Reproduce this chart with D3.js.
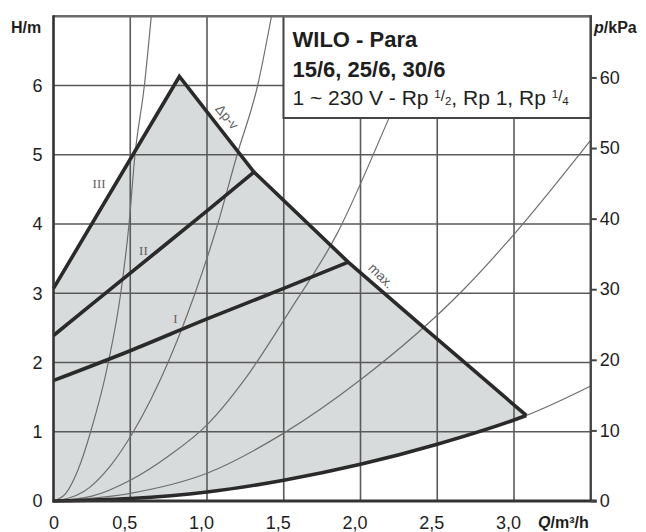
<!DOCTYPE html>
<html><head><meta charset="utf-8">
<script src="https://cdn.jsdelivr.net/npm/d3@7"></script>
<style>body{margin:0;background:#fff}svg{display:block;font-family:"Liberation Sans",Arial,sans-serif}</style>
</head><body>
<svg id="c" width="646" height="532"></svg>
<script>
// ---- data (Q in m³/h, H in m) ----
const qTicks = [0, 0.5, 1, 1.5, 2, 2.5, 3];
const qLabels = ["0", "0,5", "1,0", "1,5", "2,0", "2,5", "3,0"];
const hTicks = [0, 1, 2, 3, 4, 5, 6];
const pTicks = [0, 10, 20, 30, 40, 50, 60];

// thin system curves
const sysA = [[0,0],[0.08,0.11],[0.16,0.45],[0.242,1],[0.357,2],[0.438,3],[0.492,4],[0.531,5],[0.592,6],[0.637,7]];
const sysB = [[0,0],[0.2,0.14],[0.368,0.5],[0.52,1],[0.746,2],[0.922,3],[1.07,4],[1.196,5],[1.33,6],[1.42,7]];
const sysC = [[0,0],[0.25,0.07],[0.5,0.3],[0.75,0.65],[1.0,1.1],[1.26,1.8],[1.54,2.75],[1.845,3.85],[2.18,5.5],[2.45,6.9]];
const sysD = [[0,0],[0.5,0.11],[1.0,0.4],[1.5,0.98],[2.0,1.75],[2.67,3.05],[3.0,3.85],[3.5,5.21]];
const sysE = [[0,0],[0.5,0.035],[1.0,0.13],[1.5,0.3],[2.0,0.53],[2.5,0.82],[3.0,1.17],[3.08,1.235],[3.5,1.66]];

// thick pump curves
const speedIII = [[0,3.07],[0.82,6.13]];
const speedII = [[0,2.39],[0.5,3.29],[1.0,4.19],[1.306,4.75]];
const speedI = [[0,1.74],[0.5,2.17],[1.0,2.63],[1.5,3.07],[1.92,3.45]];
const maxCurve = [[0.82,6.13],[1.306,4.75],[1.92,3.45],[2.43,2.47],[2.71,1.94],[3.08,1.235]];
const minCurve = [[0,0],[0.5,0.035],[1.0,0.13],[1.5,0.3],[2.0,0.53],[2.5,0.82],[3.0,1.17],[3.08,1.235]];

// annotation texts
const curveLabels = [
  {t:"III", q:0.297, h:4.58, r:0, s:13},
  {t:"II",  q:0.586, h:3.62, r:0, s:13},
  {t:"I",   q:0.795, h:2.63, r:0, s:13},
  {t:"Δp-v", q:1.13, h:5.545, r:50, s:13.5},
  {t:"max.", q:2.134, h:3.25, r:45, s:13.5}
];

// ---- chart ----
const svg = d3.select("#c");
const x = d3.scaleLinear().domain([0, 3.5]).range([53.5, 590.75]);
const y = d3.scaleLinear().domain([0, 7]).range([501, 16.25]);
const yP = d3.scaleLinear().domain([0, 7 * 9.81]).range([501, 16.25]);

svg.append("defs").append("clipPath").attr("id", "clip")
  .append("rect").attr("x", x(0)).attr("y", y(7)).attr("width", x(3.5) - x(0)).attr("height", y(0) - y(7));

const lineM = d3.line().x(d => x(d[0])).y(d => y(d[1])).curve(d3.curveMonotoneX);
const lineL = d3.line().x(d => x(d[0])).y(d => y(d[1]));

// fill region
const fillPts = speedIII.concat(maxCurve.slice(1), minCurve.slice().reverse());
svg.append("path").attr("d", lineL(fillPts) + "Z").attr("fill", "#d8dbdb");

// grid
const grid = svg.append("g").attr("stroke", "#5a5a5a").attr("stroke-width", 1.6);
grid.selectAll(".v").data(qTicks.filter(d => d > 0)).join("line")
  .attr("x1", d => x(d)).attr("x2", d => x(d)).attr("y1", y(0)).attr("y2", y(7));
grid.selectAll(".h").data(hTicks.filter(d => d > 0)).join("line")
  .attr("y1", d => y(d)).attr("y2", d => y(d)).attr("x1", x(0)).attr("x2", x(3.5));

// thin system curves
const thin = svg.append("g").attr("clip-path", "url(#clip)").attr("fill", "none")
  .attr("stroke", "#6e6e6e").attr("stroke-width", 1.2);
[sysA, sysB, sysC, sysD, sysE].forEach(s => thin.append("path").attr("d", lineM(s)));

// thick curves
const thick = svg.append("g").attr("fill", "none").attr("stroke", "#2a2a2a")
  .attr("stroke-width", 3.6).attr("stroke-linejoin", "miter");
thick.append("path").attr("d", lineL(speedIII.concat(maxCurve.slice(1))));
thick.append("path").attr("d", lineM(speedII));
thick.append("path").attr("d", lineM(speedI));
thick.append("path").attr("d", lineM(minCurve));

// labels on curves
curveLabels.forEach(c => {
  svg.append("text").text(c.t)
    .attr("transform", `translate(${x(c.q)},${y(c.h)}) rotate(${c.r})`)
    .attr("text-anchor", "middle").attr("dominant-baseline", "central")
    .attr("font-size", c.s).attr("fill", "#5e5e5e")
    .attr("font-family", c.r ? "Liberation Sans" : "Liberation Serif");
});

// legend box
const bx = 283.5, by = y(7), bw = x(3.5) - 283.5, bh = 118 - y(7);
svg.append("rect").attr("x", bx).attr("y", by).attr("width", bw).attr("height", bh)
  .attr("fill", "#fff").attr("stroke", "#444").attr("stroke-width", 2);
svg.append("text").attr("x", 292.5).attr("y", 46.7).attr("font-size", 22).attr("font-weight", "bold")
  .attr("fill", "#1e1e1e").text("WILO - Para");
svg.append("text").attr("x", 292.5).attr("y", 76.7).attr("font-size", 22).attr("font-weight", "bold")
  .attr("fill", "#1e1e1e").text("15/6, 25/6, 30/6");
const t3 = svg.append("text").attr("x", 292.5).attr("y", 105).attr("font-size", 21).attr("fill", "#1e1e1e");
function frac(t, num, den) {
  t.append("tspan").attr("font-size", 11.5).attr("dy", -7).text(num);
  t.append("tspan").attr("font-size", 15).attr("dy", 3).text("/");
  t.append("tspan").attr("font-size", 11.5).attr("dy", 4).text(den);
}
t3.append("tspan").text("1 ~ 230 V - Rp ");
frac(t3, "1", "2");
t3.append("tspan").text(", Rp 1, Rp ");
frac(t3, "1", "4");

// frame
const frame = svg.append("g").attr("fill", "none");
frame.append("line").attr("x1", x(0)).attr("x2", x(3.5)).attr("y1", y(7)).attr("y2", y(7))
  .attr("stroke", "#6a6a6a").attr("stroke-width", 2.4);
frame.append("line").attr("x1", x(0)).attr("x2", x(0)).attr("y1", y(7) - 1).attr("y2", y(0) + 1.5)
  .attr("stroke", "#333").attr("stroke-width", 2.6);
frame.append("line").attr("x1", x(3.5)).attr("x2", x(3.5)).attr("y1", y(7) - 1).attr("y2", y(0))
  .attr("stroke", "#444").attr("stroke-width", 2.4);
frame.append("line").attr("x1", x(0) - 1).attr("x2", x(3.5) + 6).attr("y1", y(0)).attr("y2", y(0))
  .attr("stroke", "#333").attr("stroke-width", 2.8);

// axes
const axL = svg.append("g").attr("transform", `translate(${x(0)},0)`)
  .call(d3.axisLeft(y).tickValues(hTicks).tickFormat(d3.format("d")).tickSize(0).tickPadding(11));
const axR = svg.append("g").attr("transform", `translate(${x(3.5)},0)`)
  .call(d3.axisRight(yP).tickValues(pTicks).tickFormat(d3.format("d")).tickSize(6).tickPadding(3));
const axB = svg.append("g").attr("transform", `translate(0,${y(0)})`)
  .call(d3.axisBottom(x).tickValues(qTicks).tickFormat((d, i) => qLabels[i]).tickSize(0).tickPadding(15));
[axL, axR, axB].forEach(a => {
  a.select(".domain").remove();
  a.selectAll("text").attr("font-size", 18).attr("fill", "#1e1e1e")
    .attr("font-family", "Liberation Sans");
  a.selectAll("line").attr("stroke", "#444").attr("stroke-width", 2);
});
axB.selectAll(".tick text").attr("dx", d => d > 0 ? -6 : 0);

// axis titles
const tH = svg.append("text").attr("x", 11).attr("y", 32.5).attr("font-size", 16).attr("font-weight", "bold").attr("fill", "#1e1e1e");
tH.append("tspan").text("H/m");
const tP = svg.append("text").attr("x", 594).attr("y", 32.5).attr("font-size", 16).attr("font-weight", "bold").attr("fill", "#1e1e1e");
tP.append("tspan").attr("font-style", "italic").text("p");
tP.append("tspan").text("/kPa");
const tQ = svg.append("text").attr("x", 538).attr("y", 527.5).attr("font-size", 16).attr("font-weight", "bold").attr("fill", "#1e1e1e");
tQ.append("tspan").attr("font-style", "italic").text("Q");
tQ.append("tspan").text("/m³/h");
</script>
</body></html>
